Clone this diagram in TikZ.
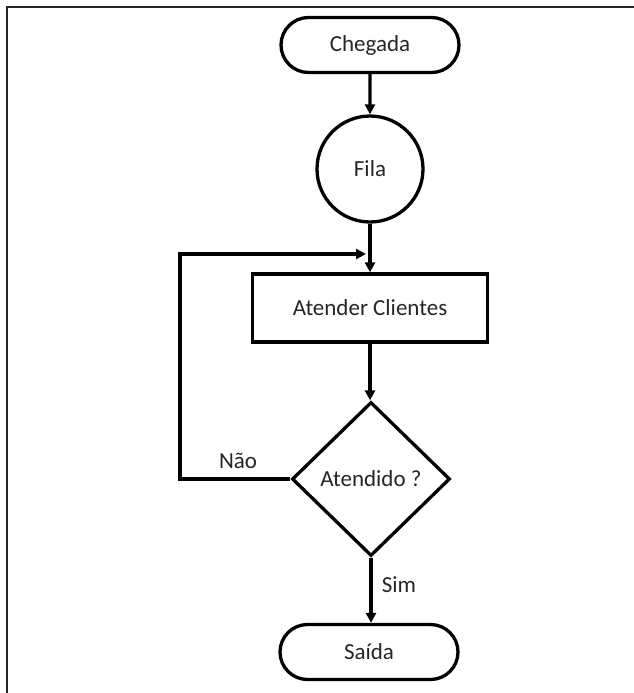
\documentclass[tikz,border=0pt]{standalone}
\usepackage{fontspec}
\setmainfont{Carlito}
\usetikzlibrary{shapes.misc,shapes.geometric,arrows.meta}
\begin{document}
\begin{tikzpicture}[x=1pt,y=-1pt,
  every node/.style={font=\fontsize{23}{27}\selectfont,text=black!85},
  shp/.style={draw=black,line width=3.3pt,inner sep=0pt,fill=white},
  term/.style={shp,rounded rectangle,minimum width=178pt,minimum height=55pt},
  proc/.style={shp,rectangle,minimum width=235pt,minimum height=68pt},
  circ/.style={shp,circle,minimum size=106pt},
  dec/.style={shp,diamond,minimum width=158pt,minimum height=154pt},
  conn/.style={line width=3.3pt,-{Triangle[length=10pt,width=10pt]}},
  lbl/.style={inner sep=0pt}]
\useasboundingbox (0,0) rectangle (634,693);
\draw[line width=2.5pt,draw=black!85] (7,693) -- (7,7) -- (634,7);
\node[term] (cheg) at (370,45) {Chegada};
\node[circ] (fila) at (370,169) {Fila};
\node[proc] (aten) at (370,308) {Atender Clientes};
\node[dec] (dec) at (371,479) {Atendido ?};
\node[term] (said) at (369,652) {Saída};
\coordinate (lb) at (180,479);
\coordinate (lt) at (180,254);
\coordinate (lj) at (366,254);
\draw[conn] (cheg) -- (fila);
\draw[conn] (fila) -- (aten);
\draw[conn] (aten) -- (aten.south |- dec.north);
\draw[conn] (dec) -- (dec.south |- said.north);
\draw[conn,line join=miter] (dec.west) -- (lb) -- (lt) -- (lj);
\node[lbl] (nao) at (238,461) {Não};
\node[lbl] (sim) at (399,585) {Sim};
\end{tikzpicture}
\end{document}
